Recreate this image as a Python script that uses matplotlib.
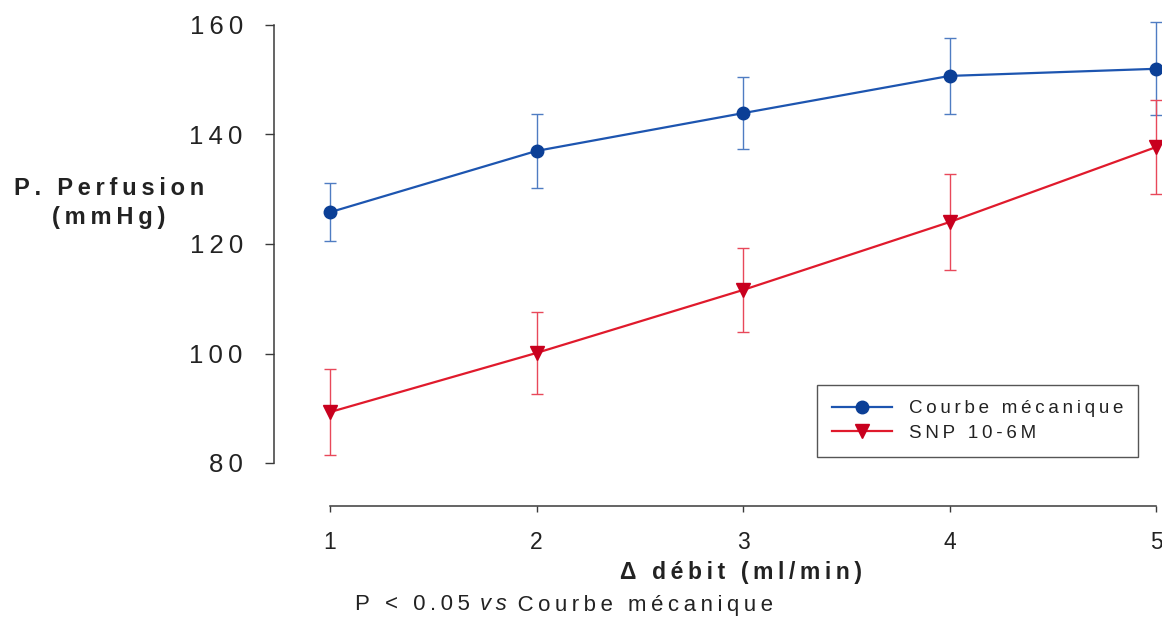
import matplotlib
matplotlib.use("Agg")
import matplotlib.pyplot as plt

# données
debit = [1, 2, 3, 4, 5]
courbe_meca = [125.8, 137.0, 143.9, 150.7, 152.0]
courbe_meca_err = [5.3, 6.7, 6.6, 7.0, 8.5]
snp = [89.3, 100.1, 111.6, 124.0, 137.7]
snp_err = [7.8, 7.5, 7.6, 8.7, 8.6]
yticks = [80, 100, 120, 140, 160]

FONT = ["Liberation Sans", "DejaVu Sans"]
TS = "\u2009"  # espace fine pour imiter l'espacement des lettres

BLUE = "#1d55b0"
BLUE_MK = "#0b3f96"
BLUE_ERR = "#4f7cc2"
RED = "#e01a2c"
RED_MK = "#c8001e"
RED_ERR = "#e8485a"
AXC = "#3a3a3a"
TXT = "#222222"


def spaced(s):
    return TS.join(s)


W, H = 1162, 621
fig = plt.figure(figsize=(W / 100, H / 100), dpi=100)
fig.patch.set_facecolor("white")
ax = fig.add_axes([274 / W, 1 - 506 / H, (W - 274) / W, (506 - 25) / H])

ax.plot(debit, courbe_meca, color=BLUE, lw=1.6, marker="o", ms=9,
        mfc=BLUE_MK, mec=BLUE_MK, clip_on=False, zorder=3,
        label=spaced("Courbe mécanique"))
ax.plot(debit, snp, color=RED, lw=1.6, marker="v", ms=10,
        mfc=RED_MK, mec=RED_MK, clip_on=False, zorder=3,
        label=spaced("SNP 10-6M"))
for ys, err, c in [(courbe_meca, courbe_meca_err, BLUE_ERR), (snp, snp_err, RED_ERR)]:
    eb = ax.errorbar(debit, ys, yerr=err, fmt="none", ecolor=c, elinewidth=1.0,
                     capsize=4.5, capthick=1.0, zorder=2)
    for art in list(eb.lines[1]) + list(eb.lines[2]):
        art.set_clip_on(False)

ax.set_xlim(1 - 56 / 206.5, 5 + 6 / 206.5)
ax.set_ylim(80 - 43 / 5.475, 160)

for s in ["top", "right"]:
    ax.spines[s].set_visible(False)
ax.spines["left"].set_bounds(80, 160)
ax.spines["bottom"].set_bounds(1, 5)
for s in ["left", "bottom"]:
    ax.spines[s].set_color(AXC)
    ax.spines[s].set_linewidth(1.1)

ax.set_yticks(yticks)
ax.set_yticklabels([spaced(str(v)) for v in yticks], family=FONT, fontsize=18.5, color=TXT)
ax.set_xticks(debit)
ax.set_xticklabels([str(v) for v in debit], family=FONT, fontsize=16.5, color=TXT)
ax.tick_params(axis="y", length=6.5, width=1.0, color=AXC, pad=16)
ax.tick_params(axis="x", length=4, width=1.0, color=AXC, pad=14)

# titre axe y
fig.text(109 / W, 1 - 203 / H, spaced("P. Perfusion") + "\n" + spaced("(mmHg)"),
         ha="center", va="center", multialignment="center", family=FONT,
         fontsize=17, fontweight="bold", color=TXT, linespacing=1.3)
# titre axe x
fig.text(741 / W, 1 - 573 / H, spaced("Δ débit (ml/min)"), ha="center", va="center",
         family=FONT, fontsize=16.5, fontweight="bold", color=TXT)

# note en bas
t1 = fig.text(355 / W, 1 - 605 / H, spaced("P < 0.05") + TS + " ", ha="left", va="center",
              family=FONT, fontsize=16, color=TXT)
t2 = ax.annotate(spaced("vs"), xy=(1, 0.5), xycoords=t1, ha="left", va="center",
                 family=FONT, fontsize=16, style="italic", color=TXT)
ax.annotate(" " + TS + spaced("Courbe mécanique"), xy=(1, 0.5), xycoords=t2,
            ha="left", va="center", family=FONT, fontsize=16, color=TXT)

leg = ax.legend(loc="upper left", bbox_to_anchor=(817 / W, 1 - 385 / H),
                bbox_transform=fig.transFigure, prop={"family": FONT, "size": 13.5},
                frameon=True, fancybox=False, edgecolor="#555555", framealpha=1,
                handlelength=3.2, handletextpad=0.9, borderpad=0.8,
                labelspacing=0.4, borderaxespad=0)
leg.get_frame().set_linewidth(1.0)
for txt in leg.get_texts():
    txt.set_color(TXT)

fig.savefig("out.png", dpi=100, facecolor="white")
